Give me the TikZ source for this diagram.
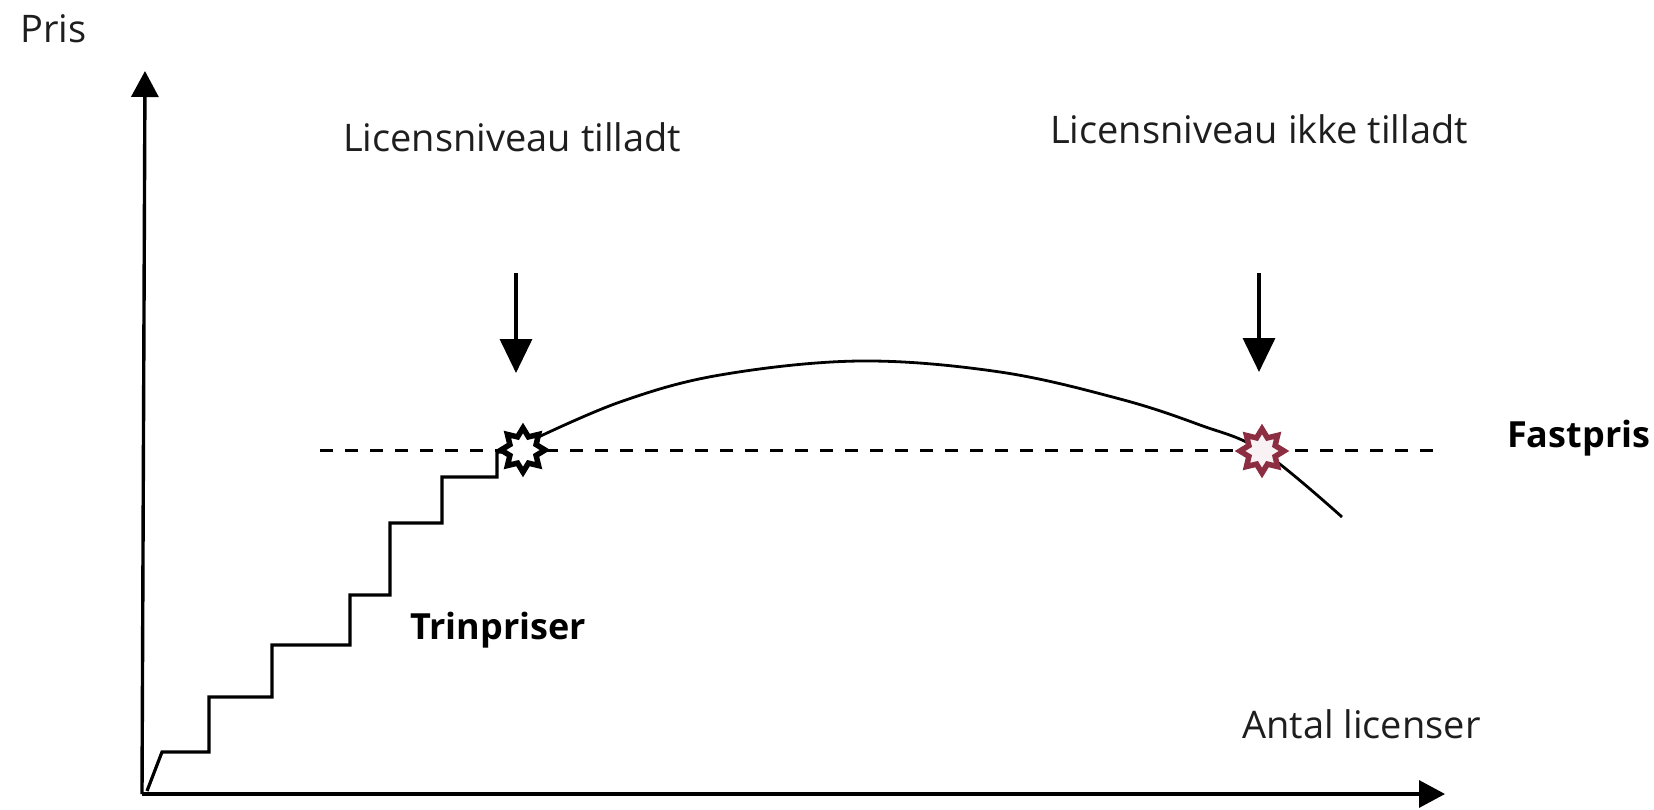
\documentclass[tikz,border=0pt]{standalone}
\usepackage{fontspec}
\setmainfont{Open Sans}
\usetikzlibrary{arrows.meta,shapes.geometric}
\definecolor{starred}{RGB}{140,45,65}
\definecolor{txt}{RGB}{30,30,30}
\begin{document}
\begin{tikzpicture}[x=1pt,y=-1pt,
  lbl/.style={anchor=base west,inner sep=0pt,font=\fontsize{38}{44}\selectfont,text=txt},
  blbl/.style={anchor=base west,inner sep=0pt,font=\fontsize{36}{42}\selectfont\bfseries,text=black},
  axisline/.style={line width=3.4pt,-{Triangle[width=27pt,length=26pt]}},
  pointer/.style={line width=3.4pt,-{Triangle[width=32pt,length=34pt]}},
  sun/.style={star,star points=8,star point ratio=1.55,minimum size=44pt,inner sep=0pt,line width=5.5pt,fill=white},
  stairline/.style={line width=3.2pt,line join=miter},
]
\useasboundingbox (0,0) rectangle (1654,809);
% axes
\coordinate (O) at (142,794);
\coordinate (ytip) at (145,71);
\coordinate (xtip) at (1445,794);
\draw[axisline] (O) -- (ytip);
\draw[axisline] (O) -- (xtip);
% fixed price dashed line
\coordinate (dl) at (320,450);
\coordinate (dr) at (1438,450);
\draw[line width=3pt,dash pattern=on 13pt off 12pt] (dl) -- (dr);
% steps
\draw[stairline] (147,791) -- (162,752) -- (209,752) -- (209,697) -- (272,697) -- (272,645)
  -- (350,645) -- (350,595) -- (390,595) -- (390,523) -- (442,523) -- (442,477)
  -- (497,477) -- (497,452) -- (510,452);
% curve
\draw[line width=2.8pt] plot[smooth,tension=0.6] coordinates
  {(530,441) (620,402) (720,375) (860,361) (1000,372) (1120,399) (1200,425) (1262,451) (1342,517)};
% stars
\node[sun,draw=black] (s1) at (523,450) {};
\node[sun,draw=starred,fill=starred!6] (s2) at (1262,451) {};
% pointers
\coordinate (a1s) at (516,273);
\coordinate (a1e) at (516,373);
\coordinate (a2s) at (1259,273);
\coordinate (a2e) at (1259,372);
\draw[pointer] (a1s) -- (a1e);
\draw[pointer] (a2s) -- (a2e);
% labels
\node[lbl] (pris) at (20,42) {Pris};
\node[lbl] (tilladt) at (343,151) {Licensniveau tilladt};
\node[lbl] (ikke) at (1050,143) {Licensniveau ikke tilladt};
\node[blbl] (fast) at (1507,447) {Fastpris};
\node[blbl] (trin) at (410,639) {Trinpriser};
\node[lbl] (antal) at (1242,738) {Antal licenser};
\end{tikzpicture}
\end{document}
